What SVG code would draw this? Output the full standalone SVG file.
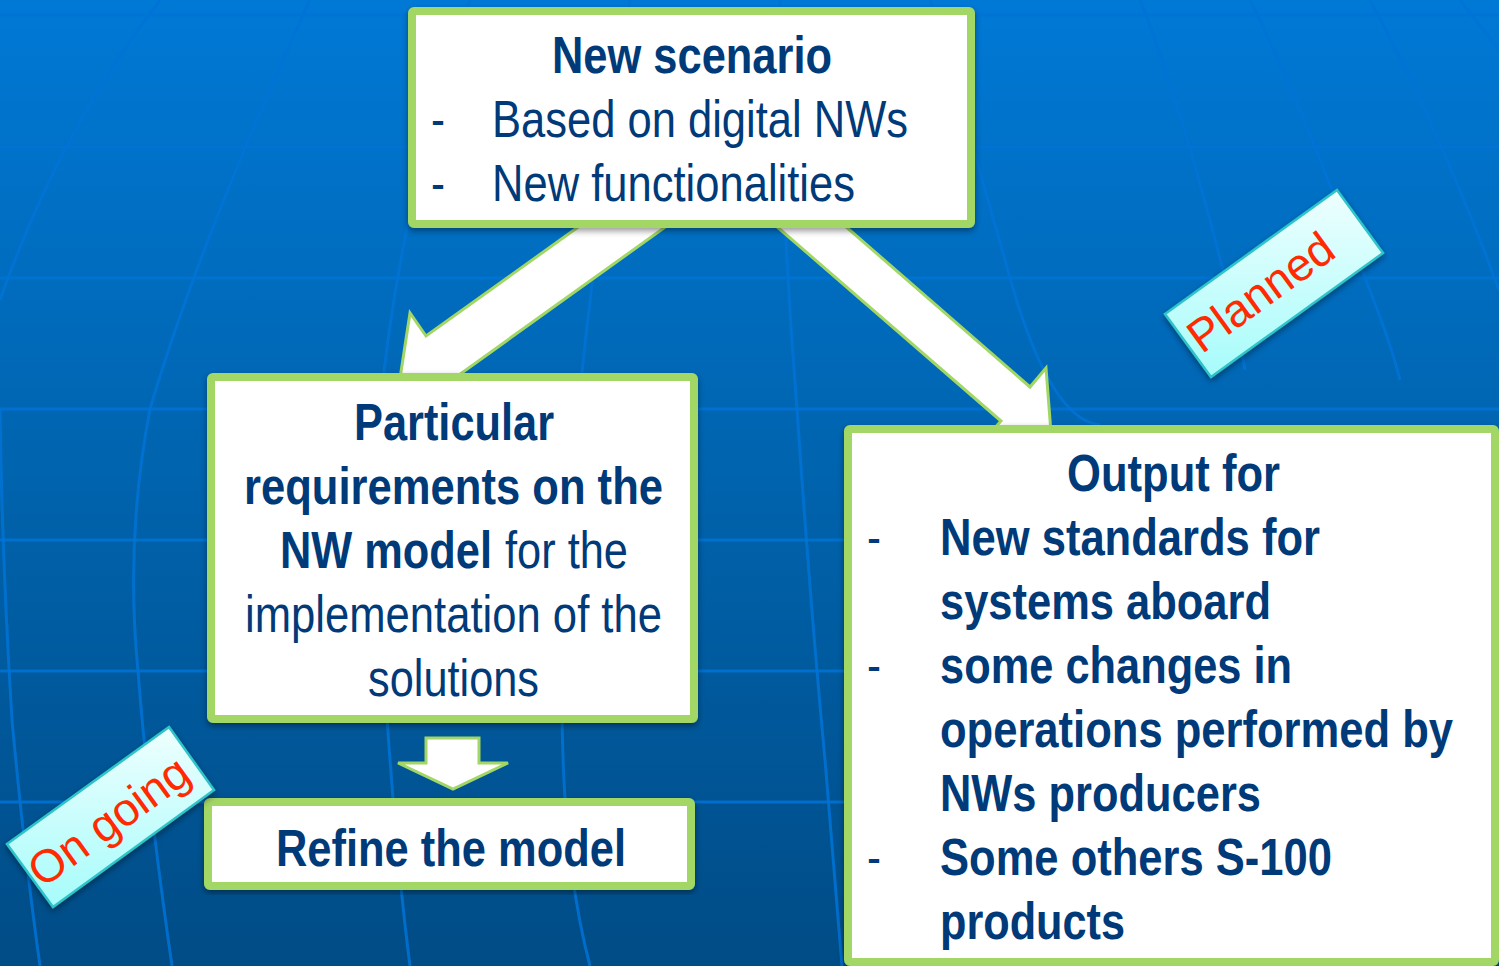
<svg xmlns="http://www.w3.org/2000/svg" width="1499" height="966" viewBox="0 0 1499 966">
<defs>
<linearGradient id="bg" x1="0" y1="0" x2="0" y2="1"><stop offset="0" stop-color="#0079d6"/><stop offset="0.5" stop-color="#0063ad"/><stop offset="1" stop-color="#004c86"/></linearGradient>
<linearGradient id="tag" x1="0" y1="0" x2="0" y2="1"><stop offset="0" stop-color="#eefffe"/><stop offset="1" stop-color="#a6fcfb"/></linearGradient>
<filter id="sh" x="-10%" y="-10%" width="120%" height="120%"><feDropShadow dx="0" dy="3" stdDeviation="3" flood-color="#000" flood-opacity="0.4"/></filter>
</defs>
<style>
.g{fill:none;stroke:#0073d6;stroke-width:3;opacity:.85}
.box{fill:#fff;stroke:#a2d665;stroke-width:8;stroke-linejoin:round;filter:url(#sh)}
.arr{fill:#fff;stroke:#a2d665;stroke-width:3;stroke-linejoin:miter}
.t{font-family:"Liberation Sans",Arial,sans-serif;font-size:52px;fill:#003a78}
.b{font-weight:bold}
.c{text-anchor:middle}
.tagb{fill:url(#tag);stroke:#2fc4c8;stroke-width:2.5;filter:url(#sh)}
.tagt{font-family:"Liberation Sans",Arial,sans-serif;font-size:46px;fill:#ff2a00;text-anchor:middle}
</style>
<rect id="background" width="1499" height="966" fill="url(#bg)"/>
<g id="grid">
<path class="g" d="M0 15H1499M0 147H1499M0 278H1499M0 409H1499M0 540H1499M0 671H1499M0 802H1499"/>
<path class="g" d="M160 0Q60 130 0 300M310 0Q200 240 150 409Q125 540 138 671Q148 800 172 966M470 0Q400 200 380 409Q375 540 384 671Q395 850 410 966M630 0Q600 200 578 409Q570 560 562 700Q562 860 590 966M780 0Q780 200 797 409Q810 600 825 760Q835 880 842 966M930 0Q960 100 1010 278Q1050 420 1100 425M1140 0Q1180 100 1225 278Q1240 340 1245 370M1250 0Q1300 100 1365 278Q1390 340 1400 380M1370 0Q1440 130 1499 290M1460 0L1499 50M0 409Q2 560 12 720Q25 860 40 966"/>
</g>
<g id="connectors">
<polygon class="arr" points="581,225 426,336 410,313 399,385 471,399 456,377 668,225"/>
<polygon class="arr" points="775,225 1001,421 985,439 1051,433 1046,368 1030,387 844,225"/>
<polygon class="arr" points="426,738 479,738 479,763 508,763 453,789 398,763 426,763"/>
</g>
<g id="node-new-scenario">
<rect class="box" x="412" y="11" width="559" height="213" rx="2"/>
<text class="t b" x="552" y="73" textLength="280" lengthAdjust="spacingAndGlyphs">New scenario</text>
<text class="t" x="431" y="137" textLength="14" lengthAdjust="spacingAndGlyphs">-</text>
<text class="t" x="492" y="137" textLength="416" lengthAdjust="spacingAndGlyphs">Based on digital NWs</text>
<text class="t" x="431" y="201" textLength="14" lengthAdjust="spacingAndGlyphs">-</text>
<text class="t" x="492" y="201" textLength="363" lengthAdjust="spacingAndGlyphs">New functionalities</text>
</g>
<g id="node-requirements">
<rect class="box" x="211" y="377" width="483" height="342" rx="2"/>
<text class="t b" x="354" y="440" textLength="200" lengthAdjust="spacingAndGlyphs">Particular</text>
<text class="t b" x="244" y="504" textLength="419" lengthAdjust="spacingAndGlyphs">requirements on the</text>
<text class="t b" x="280" y="568" textLength="212" lengthAdjust="spacingAndGlyphs">NW model</text>
<text class="t" x="505" y="568" textLength="123" lengthAdjust="spacingAndGlyphs">for the</text>
<text class="t" x="245" y="632" textLength="417" lengthAdjust="spacingAndGlyphs">implementation of the</text>
<text class="t" x="368" y="696" textLength="171" lengthAdjust="spacingAndGlyphs">solutions</text>
</g>
<g id="node-refine">
<rect class="box" x="208" y="802" width="483" height="84" rx="2"/>
<text class="t b" x="276" y="866" textLength="350" lengthAdjust="spacingAndGlyphs">Refine the model</text>
</g>
<g id="node-output">
<rect class="box" x="848" y="429" width="647" height="533" rx="2"/>
<text class="t b" x="1067" y="491" textLength="213" lengthAdjust="spacingAndGlyphs">Output for</text>
<text class="t" x="867" y="555" textLength="14" lengthAdjust="spacingAndGlyphs">-</text>
<text class="t b" x="940" y="555" textLength="380" lengthAdjust="spacingAndGlyphs">New standards for</text>
<text class="t b" x="940" y="619" textLength="331" lengthAdjust="spacingAndGlyphs">systems aboard</text>
<text class="t" x="867" y="683" textLength="14" lengthAdjust="spacingAndGlyphs">-</text>
<text class="t b" x="940" y="683" textLength="352" lengthAdjust="spacingAndGlyphs">some changes in</text>
<text class="t b" x="940" y="747" textLength="513" lengthAdjust="spacingAndGlyphs">operations performed by</text>
<text class="t b" x="940" y="811" textLength="321" lengthAdjust="spacingAndGlyphs">NWs producers</text>
<text class="t" x="867" y="875" textLength="14" lengthAdjust="spacingAndGlyphs">-</text>
<text class="t b" x="940" y="875" textLength="392" lengthAdjust="spacingAndGlyphs">Some others S-100</text>
<text class="t b" x="940" y="939" textLength="185" lengthAdjust="spacingAndGlyphs">products</text>
</g>
<g id="node-on-going">
<polygon class="tagb" points="169,727 214,790 53,907 7,844"/>
<text class="tagt" transform="translate(118,834) rotate(-36)">On going</text>
</g>
<g id="node-planned">
<polygon class="tagb" points="1337,190 1383,253 1211,377 1165,314"/>
<text class="tagt" transform="translate(1270,305) rotate(-36)">Planned</text>
</g>
</svg>
